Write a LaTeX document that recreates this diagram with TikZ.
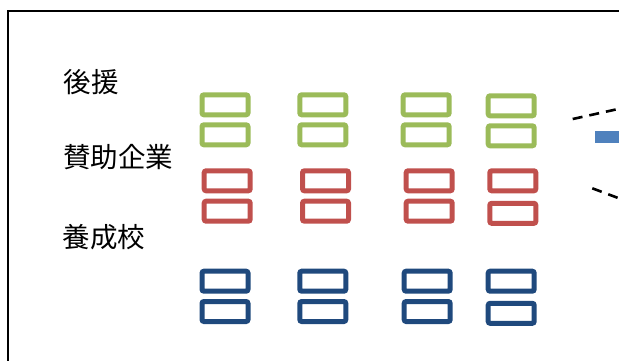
\documentclass[tikz,border=0pt]{standalone}
\usepackage{fontspec}
\newfontfamily\jpfont{Noto Sans CJK JP}
\definecolor{cgreen}{HTML}{9BBB59}
\definecolor{cred}{HTML}{C0504D}
\definecolor{cdblue}{HTML}{1F497D}
\definecolor{cblue}{HTML}{4F81BD}
\tikzset{
  slot/.style={draw, line width=5bp, rounded corners=2bp, minimum width=46bp, minimum height=20bp, inner sep=0pt, fill=white},
  gslot/.style={slot, draw=cgreen},
  rslot/.style={slot, draw=cred},
  bslot/.style={slot, draw=cdblue},
  lbl/.style={font=\jpfont\fontsize{27.5bp}{30bp}\selectfont, inner sep=0pt, anchor=center},
  dashline/.style={draw=black, line width=2.6bp, dash pattern=on 10bp off 7bp},
}
\begin{document}
\begin{tikzpicture}[x=1bp,y=-1bp]
\useasboundingbox (0,0) rectangle (619,360);
\clip (0,0) rectangle (619,360);
% frame
\coordinate (fbl) at (8.3,365);
\coordinate (ftl) at (8.3,11);
\coordinate (ftr) at (625,11);
\draw[line width=2bp, line join=miter] (fbl) -- (ftl) -- (ftr);
% labels
\node[lbl] (l1) at (91,82.5) {後援};
\node[lbl] (l2) at (118.3,157.5) {賛助企業};
\node[lbl] (l3) at (104.2,237) {養成校};
% green
\node[gslot] (g11) at (225,104.8) {};
\node[gslot] (g12) at (225,134.8) {};
\node[gslot] (g21) at (322.8,104.8) {};
\node[gslot] (g22) at (322.8,134.8) {};
\node[gslot] (g31) at (426.2,104.8) {};
\node[gslot] (g32) at (426.2,134.8) {};
\node[gslot] (g41) at (511.2,105.8) {};
\node[gslot] (g42) at (511.2,135.8) {};
% red
\node[rslot] (r11) at (227.2,180.8) {};
\node[rslot] (r12) at (227.2,211.2) {};
\node[rslot] (r21) at (325.5,180.8) {};
\node[rslot] (r22) at (325.5,211.2) {};
\node[rslot] (r31) at (429.2,180.8) {};
\node[rslot] (r32) at (429.2,211.2) {};
\node[rslot] (r41) at (512.8,180.8) {};
\node[rslot] (r42) at (512.8,213.3) {};
% blue
\node[bslot] (b11) at (225,281.2) {};
\node[bslot] (b12) at (225,311.5) {};
\node[bslot] (b21) at (322.8,281.2) {};
\node[bslot] (b22) at (322.8,311.5) {};
\node[bslot] (b31) at (427.2,281.2) {};
\node[bslot] (b32) at (427.2,311.5) {};
\node[bslot] (b41) at (511.2,281.2) {};
\node[bslot] (b42) at (511.2,313.3) {};
% callout
\coordinate (d1s) at (572.7,119);
\coordinate (d1e) at (619,108.8);
\coordinate (d2s) at (592.3,188.3);
\coordinate (d2e) at (619,198.3);
\draw[dashline] (d1s) -- (d1e);
\draw[dashline] (d2s) -- (d2e);
\node[fill=cblue, inner sep=0pt, minimum width=30bp, minimum height=12.3bp, anchor=west] (bar) at (594.3,137.2) {};
\end{tikzpicture}
\end{document}
